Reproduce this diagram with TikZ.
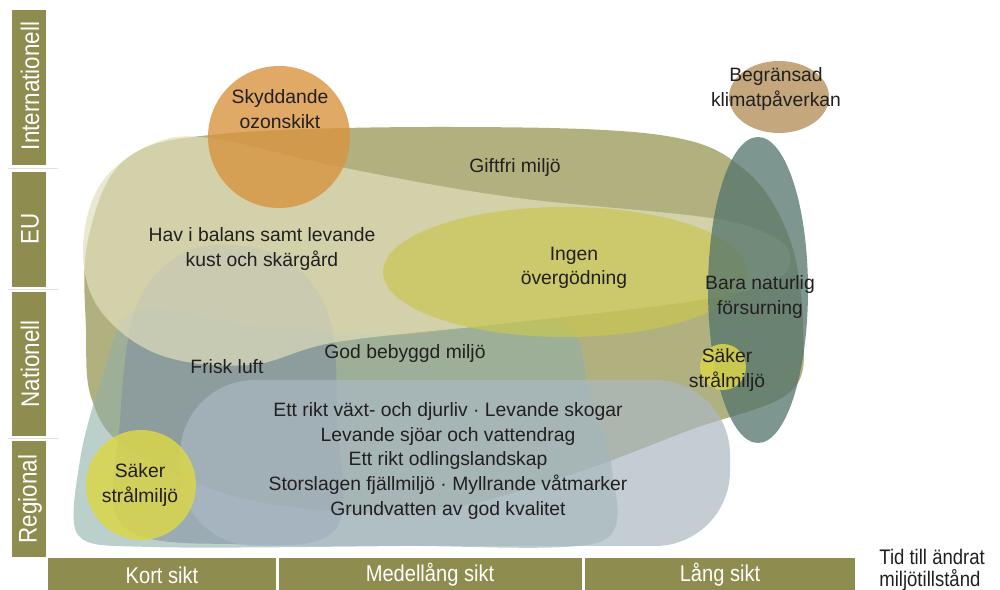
\documentclass[tikz,border=0pt]{standalone}
\usepackage{fontspec}
\setmainfont{Liberation Sans}
\newfontfamily\condfont[FakeStretch=0.88]{Liberation Sans}
\usetikzlibrary{positioning}
\definecolor{miljoAxis}{RGB}{142,140,78}
\definecolor{miljoText}{RGB}{35,31,32}
\definecolor{miljoGiftfri}{RGB}{144,144,72}
\definecolor{miljoHav}{RGB}{224,222,188}
\definecolor{miljoBebyggd}{RGB}{144,176,168}
\definecolor{miljoFrisk}{RGB}{127,142,163}
\definecolor{miljoRegional}{RGB}{171,184,194}
\definecolor{miljoIngen}{RGB}{201,198,81}
\definecolor{miljoOzon}{RGB}{216,148,63}
\definecolor{miljoForsurning}{RGB}{83,115,107}
\definecolor{miljoStral}{RGB}{218,214,74}
\definecolor{miljoKlimat}{RGB}{196,167,124}

\begin{document}
\begin{tikzpicture}[
  x=0.02cm, y=-0.02cm,
  goal/.style={
    align=center,
    inner sep=0pt,
    text=miljoText,
    font=\fontsize{11}{14}\selectfont
  },
  axisbar/.style={fill=miljoAxis},
  axislabel/.style={text=white, inner sep=0pt, font=\condfont\fontsize{13}{15}\selectfont},
  levellabel/.style={axislabel, rotate=90, font=\condfont\fontsize{14.5}{16}\selectfont},
  sep/.style={draw=black!12, line width=0.3pt}
]
  \useasboundingbox (0,0) rectangle (1000,590);

  % the goals, as overlapping fields
  \fill[miljoGiftfri, fill opacity=0.7] plot[smooth cycle, tension=0.6] coordinates {
    (86,330) (88,240) (125,160) (220,134) (450,127) (660,135) (745,170) (790,240)
    (803,330) (790,392) (690,430) (560,478) (420,512) (250,500) (130,450) (92,400)};
  \fill[miljoBebyggd, fill opacity=0.6] plot[smooth cycle, tension=0.5] coordinates {
    (78,535) (80,460) (100,385) (135,310) (250,325) (400,335) (560,320)
    (590,395) (612,470) (600,542) (400,546) (150,547)};
  \fill[miljoFrisk, fill opacity=0.55] plot[smooth cycle, tension=0.6] coordinates {
    (122,525) (120,420) (135,310) (175,258) (227,245) (290,262) (330,320)
    (337,420) (335,530) (230,544)};
  \fill[miljoHav, fill opacity=0.7] plot[smooth cycle, tension=0.6] coordinates {
    (83,250) (100,185) (150,145) (210,138) (340,167) (510,197) (710,218) (775,238)
    (790,258) (775,280) (700,300) (510,323) (337,342) (250,365) (160,355) (100,310)};
  \fill[miljoIngen, fill opacity=0.7] (565,272) ellipse [x radius=182, y radius=65];
  \fill[miljoRegional, fill opacity=0.7, rounded corners=1.5cm] (180,380) rectangle (730,546);
  \fill[miljoOzon, fill opacity=0.8] (279,137) circle [radius=71];
  \fill[miljoForsurning, fill opacity=0.75] (758,290) ellipse [x radius=50, y radius=153];
  \fill[miljoStral, fill opacity=0.85] (723,367) circle [radius=23];
  \fill[miljoStral, fill opacity=0.85] (141,485) circle [radius=55];
  \fill[miljoKlimat] (779,97) ellipse [x radius=50, y radius=36];

  % labels
  \node[goal] (ozon) at (280,109) {Skyddande\\ozonskikt};
  \node[goal] (klimat) at (776,89) {Begränsad\\klimatpåverkan};
  \node[goal] (giftfri) at (515,168) {Giftfri miljö};
  \node[goal] (hav) at (262,249) {Hav i balans samt levande\\kust och skärgård};
  \node[goal] (ingen) at (574,268) {Ingen\\övergödning};
  \node[goal] (forsurning) at (760,297) {Bara naturlig\\försurning};
  \node[goal] (stralNat) at (727,370) {Säker\\strålmiljö};
  \node[goal] (frisk) at (227,367) {Frisk luft};
  \node[goal] (bebyggd) at (405,354) {God bebyggd miljö};
  \node[goal] (regional) at (448,461) {Ett rikt växt- och djurliv · Levande skogar\\Levande sjöar och vattendrag\\Ett rikt odlingslandskap\\Storslagen fjällmiljö · Myllrande våtmarker\\Grundvatten av god kvalitet};
  \node[goal] (stralReg) at (140,485) {Säker\\strålmiljö};

  % level axis
  \fill[axisbar] (12,10) rectangle (46,165);
  \fill[axisbar] (12,172) rectangle (46,287);
  \fill[axisbar] (12,292) rectangle (46,436);
  \fill[axisbar] (12,441) rectangle (46,557);
  \draw[sep] (8,168.5) -- (58,168.5);
  \draw[sep] (8,289.5) -- (58,289.5);
  \draw[sep] (8,438.5) -- (58,438.5);
  \node[levellabel] (internationell) at (30,86) {Internationell};
  \node[levellabel] (eu) at (30,229) {EU};
  \node[levellabel] (nationell) at (30,364) {Nationell};
  \node[levellabel] (regionalLevel) at (30,499) {Regional};

  % time axis
  \fill[axisbar] (48,558) rectangle (276,590);
  \fill[axisbar] (279,558) rectangle (582,590);
  \fill[axisbar] (585,558) rectangle (855,590);
  \node[axislabel] (kort) at (162,575) {Kort sikt};
  \node[axislabel] (medel) at (430,575) {Medellång sikt};
  \node[axislabel] (lang) at (720,575) {Lång sikt};
  \node[anchor=west, align=left, inner sep=0pt, text=miljoText,
    font=\condfont\fontsize{12}{12.5}\selectfont] (tid) at (879,570) {Tid till ändrat\\miljötillstånd};
\end{tikzpicture}
\end{document}
